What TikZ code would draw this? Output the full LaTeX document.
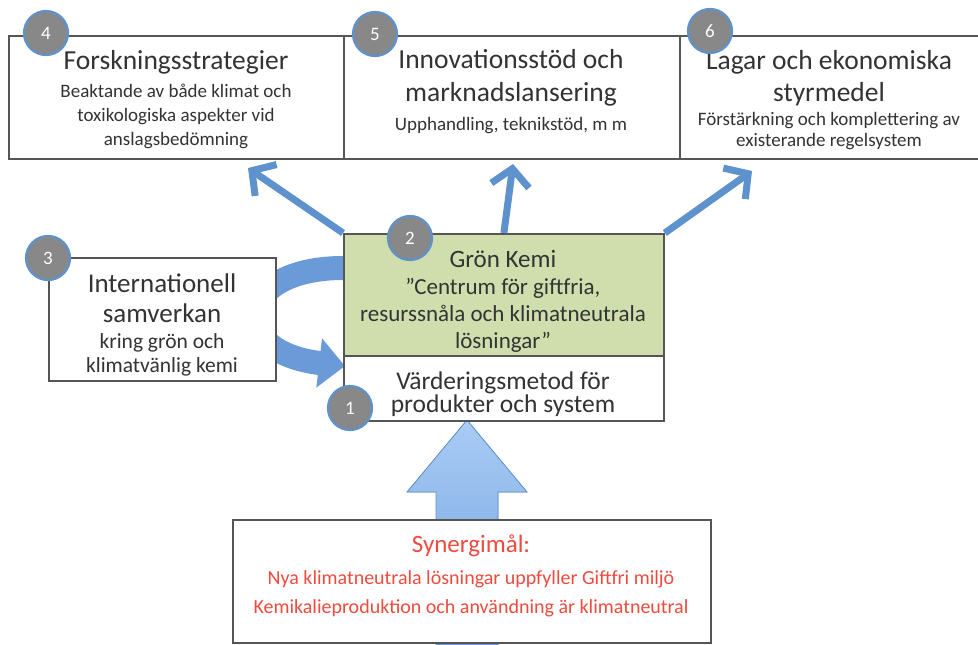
\documentclass[tikz,border=0pt]{standalone}
\usepackage{fontspec}
\setmainfont{Carlito}
\usetikzlibrary{arrows.meta}
\definecolor{arrowblue}{HTML}{5E92CD}
\definecolor{bandblue}{HTML}{6A9BD8}
\definecolor{circgrey}{HTML}{888888}
\definecolor{boxline}{HTML}{555555}
\definecolor{greenfill}{HTML}{D0DEAE}
\definecolor{txt}{HTML}{333333}
\definecolor{redtxt}{HTML}{EE4B3E}
\definecolor{uplight}{HTML}{AACCF5}
\definecolor{updark}{HTML}{6D9FDC}
\begin{document}
\begin{tikzpicture}[x=1pt,y=-1pt,
  box/.style={draw=boxline,line width=1.8pt,fill=white,inner sep=0pt,anchor=north west},
  numcirc/.style={circle,fill=circgrey,draw=arrowblue,line width=2.2pt,minimum size=44pt,inner sep=0pt,text=white,font=\fontsize{19}{19}\selectfont},
  thinarrow/.style={draw=arrowblue,line width=7pt,-{Straight Barb[length=17pt,width=38pt]}},
  bigtitle/.style={text=txt,align=center,font=\fontsize{27.5}{33}\selectfont},
  subtext/.style={text=txt,align=center,font=\fontsize{19}{24}\selectfont},
  redtext/.style={text=redtxt,align=center,font=\fontsize{20}{29}\selectfont}
]
\useasboundingbox (0,0) rectangle (978,645);
\fill[white] (0,0) rectangle (978,645);

% big up arrow
\fill[top color=uplight,bottom color=updark,draw=arrowblue,line width=0.8pt]
  (436,645) -- (436,492) -- (407,492) -- (467,420) -- (527,492) -- (498,492) -- (498,645) -- cycle;

% curved band arrow (behind box 3)
\coordinate (bandstart) at (343,268);
\coordinate (bandend) at (345,366);
\draw[bandblue,line width=24pt,-{Triangle[length=26pt,width=48pt]}]
  (bandstart) .. controls (235,268) and (225,352) .. (bandend);

% top boxes
\node[box,minimum width=335pt,minimum height=123pt] (b4) at (8,35) {};
\node[box,minimum width=336pt,minimum height=123pt] (b5) at (343,35) {};
\node[box,minimum width=300pt,minimum height=123pt] (b6) at (679,35) {};

% box 3
\node[box,minimum width=227pt,minimum height=123pt] (b3) at (48,257) {};

% central boxes
\node[box,fill=greenfill,minimum width=320pt,minimum height=122pt] (green) at (343,233) {};
\node[box,minimum width=320pt,minimum height=65pt] (b1) at (343,355) {};

% bottom box
\node[box,minimum width=478pt,minimum height=123pt] (bottom) at (232,519) {};

% arrows to top boxes
\coordinate (tip4) at (248,168);
\coordinate (tip5) at (513,164);
\coordinate (tip6) at (752,171);
\draw[thinarrow] (green.north west) -- (tip4);
\draw[thinarrow] (green.north) -- (tip5);
\draw[thinarrow] (green.north east) -- (tip6);

% texts
\node[bigtitle] (t4) at (176,62) {Forskningsstrategier};
\node[subtext] (s4) at (176,116) {Beaktande av både klimat och\\toxikologiska aspekter vid\\anslagsbedömning};

\node[bigtitle] (t5) at (511,78) {Innovationsstöd och\\marknadslansering};
\node[subtext] (s5) at (511,126) {Upphandling, teknikstöd, m m};

\node[bigtitle,font=\fontsize{27.5}{32}\selectfont] (t6) at (829,78) {Lagar och ekonomiska\\styrmedel};
\node[subtext,font=\fontsize{19}{21}\selectfont] (s6) at (829,131) {Förstärkning och komplettering av\\existerande regelsystem};

\node[bigtitle,font=\fontsize{27}{30}\selectfont] (t3) at (162,298) {Internationell\\samverkan};
\node[subtext,font=\fontsize{21.5}{24}\selectfont] (s3) at (162,355) {kring grön och\\klimatvänlig kemi};

\node[bigtitle,font=\fontsize{25}{27}\selectfont] (tg) at (503,259) {Grön Kemi};
\node[subtext,font=\fontsize{23}{27}\selectfont] (sg) at (503,315) {”Centrum för giftfria,\\resurssnåla och klimatneutrala\\lösningar”};

\node[bigtitle,font=\fontsize{25.5}{23.5}\selectfont] (t1) at (503,394) {Värderingsmetod för\\produkter och system};

\node[redtext,font=\fontsize{25}{25}\selectfont] (tr) at (471,546) {Synergimål:};
\node[redtext] (sr) at (471,594) {Nya klimatneutrala lösningar uppfyller Giftfri miljö\\Kemikalieproduktion och användning är klimatneutral};

% numbered circles
\node[numcirc] (c4) at (46,33) {4};
\node[numcirc] (c5) at (375,34) {5};
\node[numcirc] (c6) at (710,31) {6};
\node[numcirc] (c3) at (48,258) {3};
\node[numcirc] (c2) at (410,238) {2};
\node[numcirc] (c1) at (350,408) {1};
\end{tikzpicture}
\end{document}
